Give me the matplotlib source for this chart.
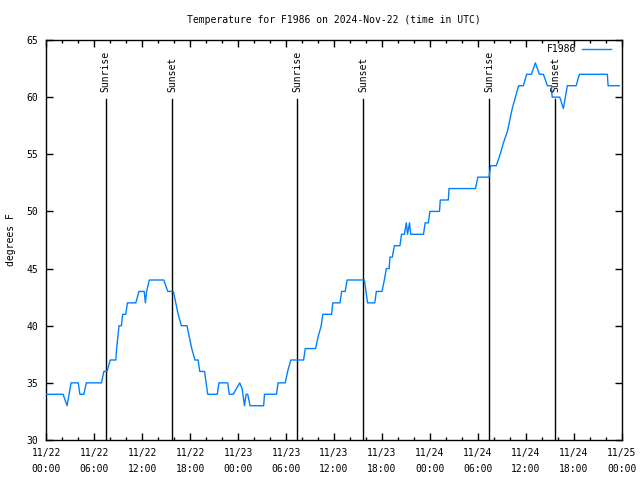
import matplotlib
matplotlib.use("Agg")
import matplotlib.pyplot as plt
from matplotlib.ticker import MultipleLocator

# hours since 2024-11-22 00:00 UTC, temperature in degrees F
hours = [
    0.0, 2.1, 2.6, 3.1, 4.0, 4.2, 4.7, 5.0, 6.9, 7.2, 7.6, 8.0, 8.7, 8.8,
    8.95, 9.1, 9.4, 9.55, 9.95, 10.15, 11.2, 11.6, 12.25, 12.4, 12.55, 12.9,
    14.7, 15.2, 15.9, 16.2, 16.5, 16.9, 17.6, 17.9, 18.2, 18.6, 19.0, 19.2,
    19.8, 20.0, 20.2, 21.4, 21.6, 22.7, 22.9, 23.4, 24.2, 24.5, 24.8, 25.0,
    25.2, 25.5, 27.2, 27.3, 28.8, 29.0, 29.9, 30.2, 30.6, 32.2, 32.4, 33.7,
    34.0, 34.4, 34.6, 35.1, 35.7, 35.85, 36.75, 36.95, 37.4, 37.65, 39.8,
    40.0, 40.2, 41.1, 41.3, 42.0, 42.3, 42.55, 42.9, 43.0, 43.3, 43.55,
    44.25, 44.45, 44.8, 45.05, 45.2, 45.45, 45.6, 47.2, 47.4, 47.8,
    48.0, 49.2, 49.3, 50.3, 50.4, 53.7, 54.0, 55.4, 55.6, 56.3, 56.8, 57.2,
    57.7, 58.0, 58.3, 58.7, 59.1, 59.7, 60.1, 60.7, 61.2, 61.7, 62.2, 62.7,
    63.2, 63.3, 64.25, 64.7, 65.2, 66.3, 66.7, 70.2, 70.3, 71.7,
]
temps = [
    34, 34, 33, 35, 35, 34, 34, 35, 35, 36, 36, 37, 37, 38,
    39, 40, 40, 41, 41, 42, 42, 43, 43, 42, 43, 44,
    44, 43, 43, 42, 41, 40, 40, 39, 38, 37, 37, 36,
    36, 35, 34, 34, 35, 35, 34, 34, 35, 34.5, 33, 34,
    34, 33, 33, 34, 34, 35, 35, 36, 37, 37, 38, 38,
    39, 40, 41, 41, 41, 42, 42, 43, 43, 44, 44,
    43, 42, 42, 43, 43, 44, 45, 45, 46, 46, 47,
    47, 48, 48, 49, 48, 49, 48, 48, 49, 49,
    50, 50, 51, 51, 52, 52, 53, 53, 54, 54, 55, 56,
    57, 58, 59, 60, 61, 61, 62, 62, 63, 62, 62, 61,
    61, 60, 60, 59, 61, 61, 62, 62, 61, 61,
]

sun_hours = [7.42, 15.79, 31.42, 39.67, 55.42, 63.71]
sun_labels = ["Sunrise", "Sunset", "Sunrise", "Sunset", "Sunrise", "Sunset"]

tick_hours = list(range(0, 73, 6))
tick_labels = [
    "11/22\n00:00", "11/22\n06:00", "11/22\n12:00", "11/22\n18:00",
    "11/23\n00:00", "11/23\n06:00", "11/23\n12:00", "11/23\n18:00",
    "11/24\n00:00", "11/24\n06:00", "11/24\n12:00", "11/24\n18:00",
    "11/25\n00:00",
]

plt.rcParams["font.family"] = ["DejaVu Sans Mono"]
plt.rcParams["font.size"] = 7

fig = plt.figure(figsize=(6.4, 4.8), dpi=100)
ax = fig.add_axes([46.3 / 640, 40 / 480, 575.4 / 640, 400 / 480])

ax.plot(hours, temps, color="#0080ff", linewidth=1.0, label="F1986", zorder=3)

for h, lab in zip(sun_hours, sun_labels):
    ax.plot([h, h], [30, 59.8], color="black", linewidth=1.0, zorder=2)
    ax.text(h, 60.45, lab, rotation=90, ha="center", va="bottom",
            fontsize=7, zorder=4)

ax.set_xlim(0, 72)
ax.set_ylim(30, 65)
ax.set_xticks(tick_hours)
ax.set_xticklabels(tick_labels, linespacing=1.65)
ax.xaxis.set_minor_locator(MultipleLocator(2))
ax.yaxis.set_major_locator(MultipleLocator(5))

ax.tick_params(which="both", direction="in", top=True, right=True,
               colors="black", labelsize=7)
ax.tick_params(which="major", length=5, width=1)
ax.tick_params(axis="x", which="major", pad=6)
ax.tick_params(axis="y", which="major", pad=6)
ax.tick_params(which="minor", length=2.5, width=1)
for sp in ax.spines.values():
    sp.set_linewidth(1.0)

ax.set_ylabel("degrees F", labelpad=7)
ax.set_title("Temperature for F1986 on 2024-Nov-22 (time in UTC)",
             fontsize=7, pad=12)

leg = ax.legend(loc="center right", bbox_to_anchor=(0.9814, 0.9775),
                frameon=False, markerfirst=False, borderpad=0,
                borderaxespad=0, handlelength=3.0, handletextpad=0.6,
                fontsize=7)

fig.savefig("out.png", dpi=100, facecolor="white")
